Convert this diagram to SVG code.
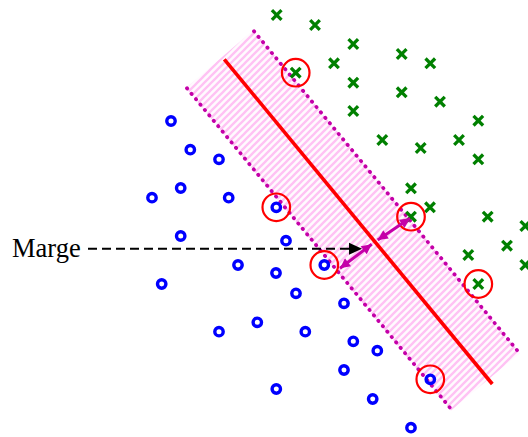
<svg xmlns="http://www.w3.org/2000/svg" width="528" height="437" viewBox="0 0 528 437">
<style>
.o{fill:none;stroke:#0000ff;stroke-width:3.4}
.x{fill:none;stroke:#008000;stroke-width:3.3}
.sv{fill:none;stroke:#ff0000;stroke-width:2.2}
.dot{fill:none;stroke:#c400a8;stroke-width:3.8;stroke-linecap:round;stroke-dasharray:0.3 6.7}
.mg{fill:none;stroke:#c400a8;stroke-width:3}
.lbl{font-family:"Liberation Serif","Times New Roman",serif;font-size:26.5px;fill:#000}
</style>
<defs>
<pattern id="hatch" patternUnits="userSpaceOnUse" width="7" height="7">
<rect width="7" height="7" fill="#fffafe"/>
<path d="M-1,1 L1,-1 M0,7 L7,0 M6,8 L8,6" stroke="#ffc2f4" stroke-width="2.3"/>
</pattern>
<marker id="mh" viewBox="0 0 10 10" refX="10" refY="5" markerWidth="12" markerHeight="10" markerUnits="userSpaceOnUse" orient="auto-start-reverse">
<path d="M0,0 L10,5 L0,10 z" fill="#c400a8"/>
</marker>
<path id="cx" d="M-4.8,-4.8 L4.8,4.8 M-4.8,4.8 L4.8,-4.8"/>
</defs>
<g id="margin-band">
<polygon points="253.5,30 520,353 451,410.5 186,88" fill="url(#hatch)"/>
<line class="dot" x1="254" y1="31.3" x2="518.3" y2="351.7"/>
<line class="dot" x1="187" y1="88.3" x2="451" y2="409"/>
</g>
<g id="hyperplane">
<line x1="224.3" y1="59.3" x2="492.3" y2="384" stroke="#ff0000" stroke-width="3.6"/>
</g>
<g id="class-o">
<circle class="o" cx="171" cy="121" r="4.2"/>
<circle class="o" cx="190.3" cy="149.7" r="4.2"/>
<circle class="o" cx="219" cy="159.3" r="4.2"/>
<circle class="o" cx="180.7" cy="188" r="4.2"/>
<circle class="o" cx="152" cy="197.7" r="4.2"/>
<circle class="o" cx="228.7" cy="197.7" r="4.2"/>
<circle class="o" cx="276.3" cy="207.3" r="4.2"/>
<circle class="o" cx="180.7" cy="236" r="4.2"/>
<circle class="o" cx="286" cy="240.7" r="4.2"/>
<circle class="o" cx="161.7" cy="284" r="4.2"/>
<circle class="o" cx="238" cy="265" r="4.2"/>
<circle class="o" cx="276" cy="273" r="4.2"/>
<circle class="o" cx="324.3" cy="265" r="4.2"/>
<circle class="o" cx="296" cy="293.3" r="4.2"/>
<circle class="o" cx="257.3" cy="322.3" r="4.2"/>
<circle class="o" cx="219" cy="331.7" r="4.2"/>
<circle class="o" cx="305.3" cy="331.7" r="4.2"/>
<circle class="o" cx="276.3" cy="389" r="4.2"/>
<circle class="o" cx="344" cy="303.3" r="4.2"/>
<circle class="o" cx="353.3" cy="341.3" r="4.2"/>
<circle class="o" cx="377.3" cy="350.7" r="4.2"/>
<circle class="o" cx="344" cy="370" r="4.2"/>
<circle class="o" cx="372.7" cy="399" r="4.2"/>
<circle class="o" cx="411" cy="427.7" r="4.2"/>
<circle class="o" cx="430.3" cy="379.3" r="4.2"/>
</g>
<g id="class-x" class="x">
<use href="#cx" x="276.7" y="15"/>
<use href="#cx" x="315" y="25"/>
<use href="#cx" x="353.3" y="44"/>
<use href="#cx" x="334" y="63.3"/>
<use href="#cx" x="295.7" y="72.7"/>
<use href="#cx" x="353.3" y="82.7"/>
<use href="#cx" x="353.3" y="111"/>
<use href="#cx" x="401.7" y="54"/>
<use href="#cx" x="430.3" y="63.3"/>
<use href="#cx" x="401.7" y="92.3"/>
<use href="#cx" x="440" y="101.7"/>
<use href="#cx" x="478.3" y="120.7"/>
<use href="#cx" x="382.3" y="140"/>
<use href="#cx" x="420.7" y="148"/>
<use href="#cx" x="459" y="140"/>
<use href="#cx" x="478.3" y="159.3"/>
<use href="#cx" x="411" y="188.3"/>
<use href="#cx" x="430" y="207.3"/>
<use href="#cx" x="411" y="216.7"/>
<use href="#cx" x="487.7" y="216.7"/>
<use href="#cx" x="525.3" y="226"/>
<use href="#cx" x="507" y="245.7"/>
<use href="#cx" x="468.3" y="255"/>
<use href="#cx" x="525.3" y="265"/>
<use href="#cx" x="478.3" y="284"/>
</g>
<g id="support-vectors">
<circle class="sv" cx="295.7" cy="72.7" r="13.8"/>
<circle class="sv" cx="276.3" cy="207.3" r="13.8"/>
<circle class="sv" cx="411" cy="216.7" r="13.8"/>
<circle class="sv" cx="324.3" cy="265" r="13.8"/>
<circle class="sv" cx="478.3" cy="284" r="13.8"/>
<circle class="sv" cx="430.3" cy="379.3" r="13.8"/>
</g>
<g id="label-marge">
<text class="lbl" x="12" y="256.5">Marge</text>
</g>
<g id="connectors">
<line x1="88" y1="248.7" x2="351" y2="248.7" stroke="#000" stroke-width="2" stroke-dasharray="9 5"/>
<polygon points="362,248.7 349,242.7 349,254.7" fill="#000"/>
<line class="mg" x1="410" y1="218.3" x2="377.7" y2="240" marker-start="url(#mh)" marker-end="url(#mh)"/>
<line class="mg" x1="340" y1="268.3" x2="371.7" y2="244.3" marker-start="url(#mh)" marker-end="url(#mh)"/>
</g>
</svg>
